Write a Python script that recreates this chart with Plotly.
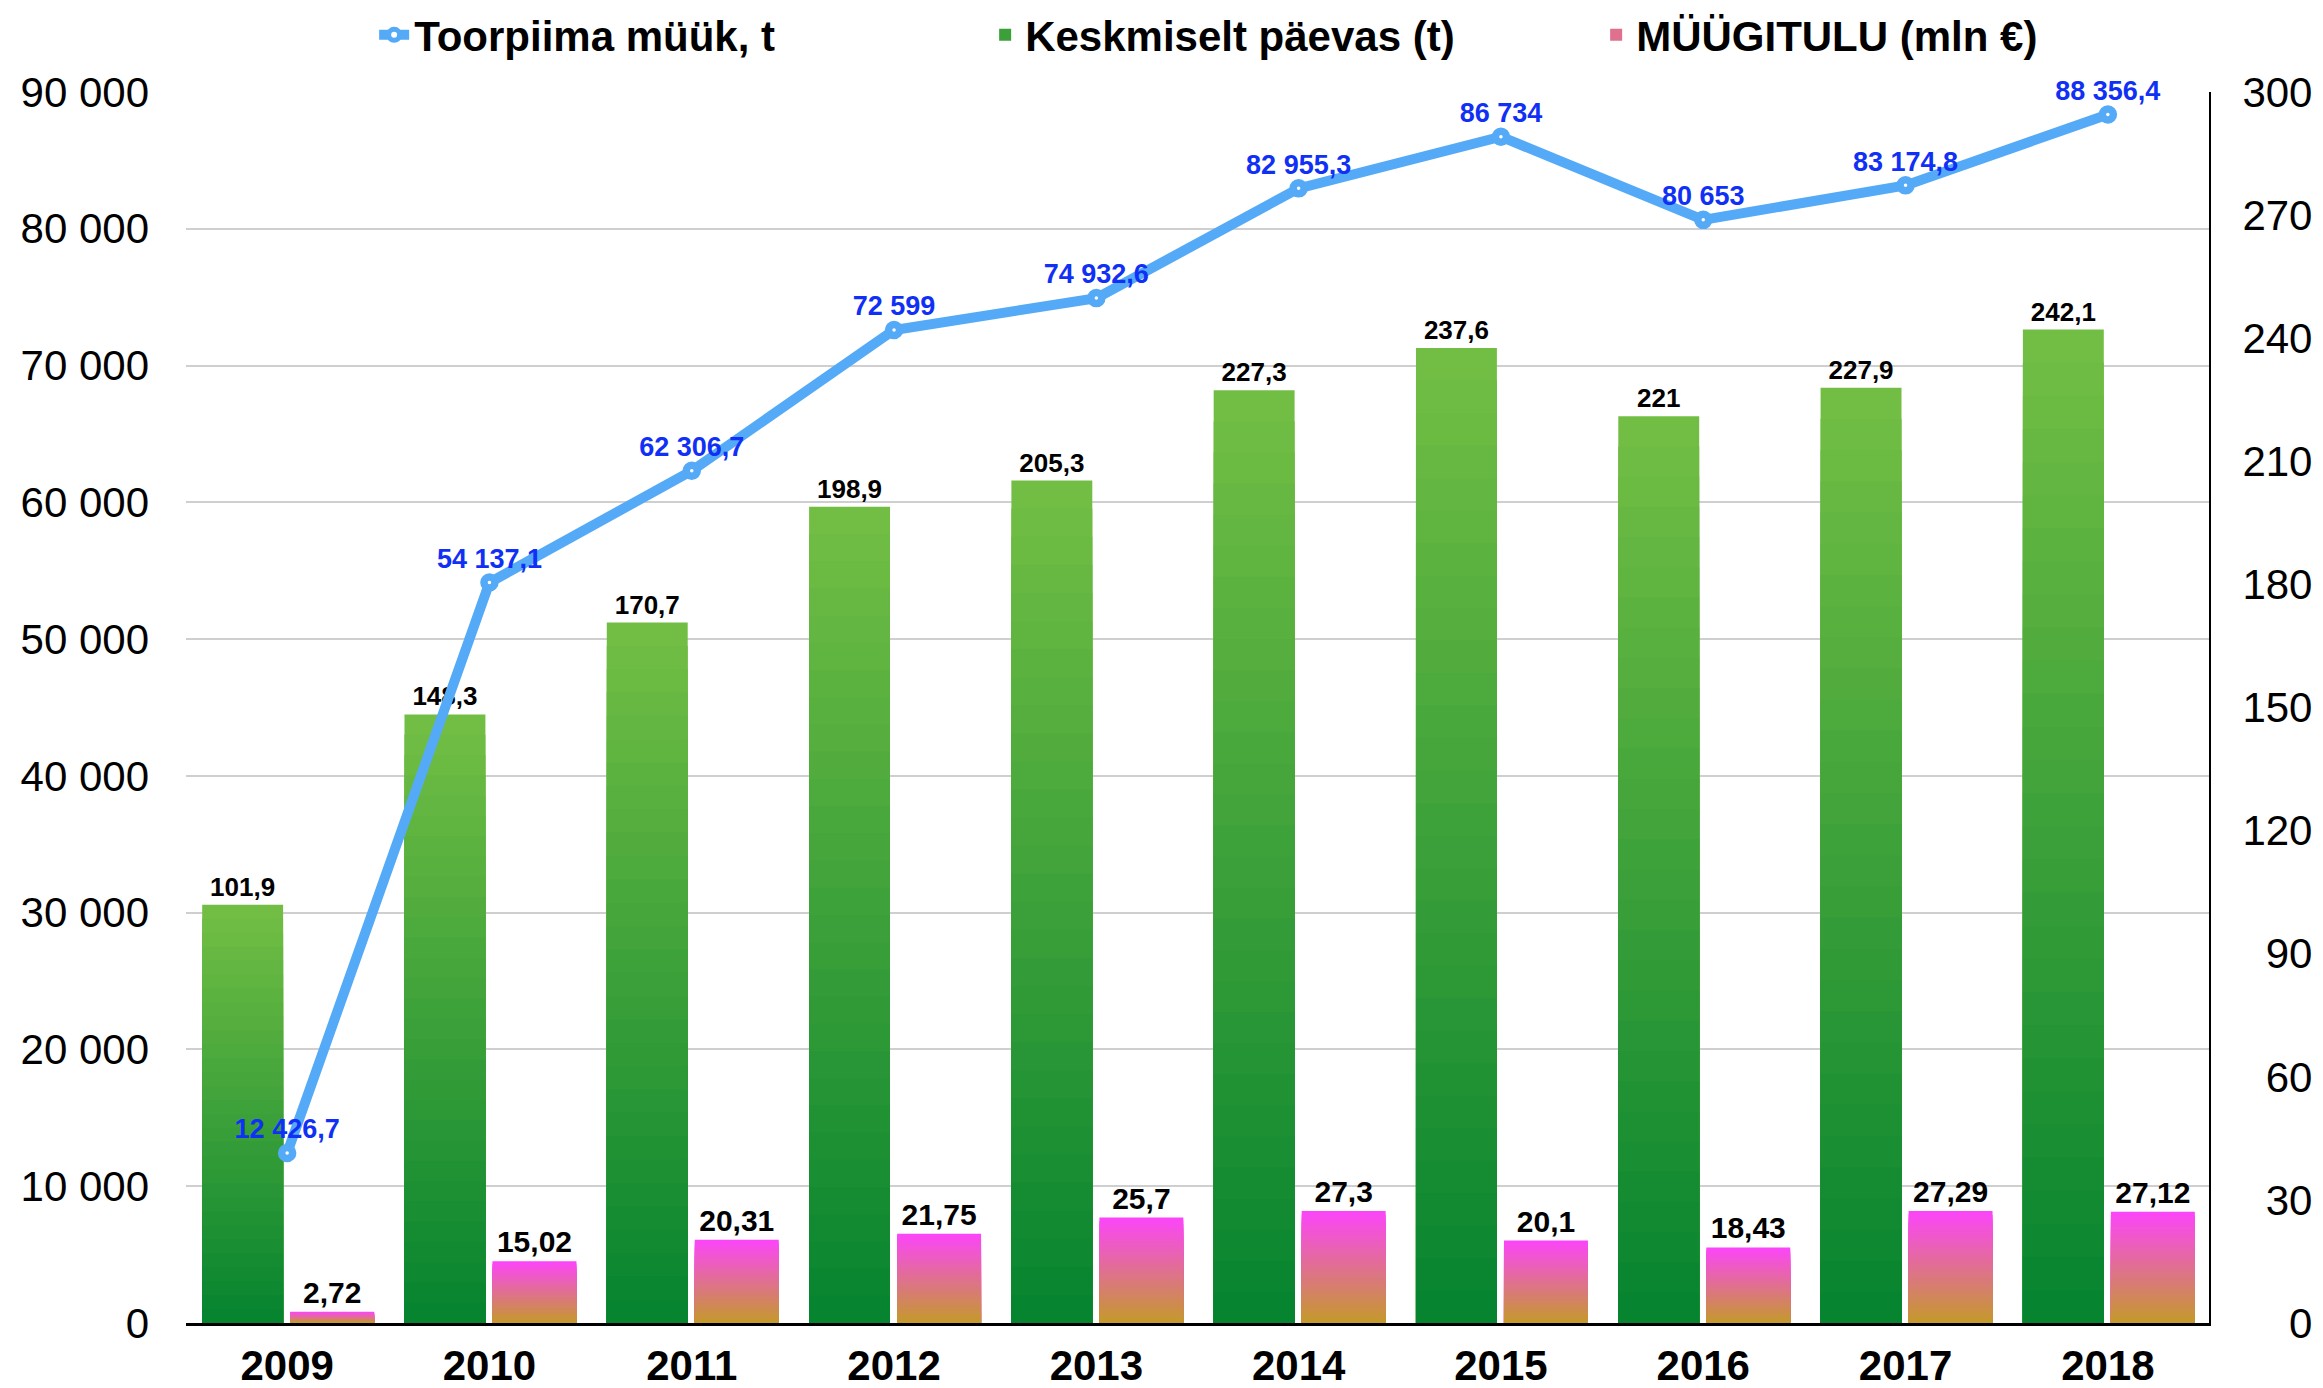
import plotly.graph_objects as go

years = ["2009", "2010", "2011", "2012", "2013", "2014", "2015", "2016", "2017", "2018"]
toorpiima = [12426.7, 54137.1, 62306.7, 72599, 74932.6, 82955.3, 86734, 80653, 83174.8, 88356.4]
keskmiselt = [101.9, 148.3, 170.7, 198.9, 205.3, 227.3, 237.6, 221, 227.9, 242.1]
muugitulu = [2.72, 15.02, 20.31, 21.75, 25.7, 27.3, 20.1, 18.43, 27.29, 27.12]
right_ticks = [0, 30, 60, 90, 120, 150, 180, 210, 240, 270, 300]

FONT = "Liberation Sans, Arial, Helvetica, sans-serif"


def fmt_dec(v):
    return f"{v:g}".replace(".", ",")


def fmt_thousands(v):
    s = f"{int(v):,}" if float(v).is_integer() else f"{v:,.1f}"
    return s.replace(",", " ").replace(".", ",")


def hex2rgb(h):
    h = h.lstrip("#")
    return tuple(int(h[i:i + 2], 16) for i in (0, 2, 4))


def interp(c_bottom, c_top, f):
    a, b = hex2rgb(c_bottom), hex2rgb(c_top)
    return "rgb(%d,%d,%d)" % tuple(round(a[i] + (b[i] - a[i]) * f) for i in range(3))


fig = go.Figure()

N = 30


def add_gradient_bars(values, name, c_top, c_bottom, offset, width, labels, tfont, rank):
    for k in range(N):
        frac = (N - k) / N
        f = (N - k - 0.5) / N
        color = interp(c_bottom, c_top, f)
        fig.add_trace(go.Bar(
            x=years,
            y=[v * frac for v in values],
            yaxis="y",
            name=name,
            legendgroup=name,
            legendrank=rank,
            showlegend=(k == N // 2),
            marker=dict(color=color, line=dict(width=0)),
            offset=offset,
            width=width,
            text=labels if k == 0 else None,
            textposition="outside" if k == 0 else "none",
            textfont=tfont,
            cliponaxis=False,
            hoverinfo="x+text" if k == 0 else "skip",
        ))


add_gradient_bars(keskmiselt, "Keskmiselt päevas (t)", "#74bf44", "#05832f", -0.42, 0.40,
                  [fmt_dec(v) for v in keskmiselt],
                  dict(family=FONT, size=26, color="black", weight="bold"), 2)
add_gradient_bars(muugitulu, "MÜÜGITULU (mln €)", "#fc45fa", "#c49a2a", 0.015, 0.415,
                  [fmt_dec(v) for v in muugitulu],
                  dict(family=FONT, size=30, color="black", weight="bold"), 3)

fig.add_trace(go.Scatter(
    x=years,
    y=toorpiima,
    yaxis="y2",
    name="Toorpiima müük, t",
    legendrank=1,
    mode="lines+markers+text",
    line=dict(color="#55aaf7", width=10),
    marker=dict(symbol="circle", size=11, color="white", line=dict(color="#55aaf7", width=7.5)),
    text=[fmt_thousands(v) for v in toorpiima],
    textposition="top center",
    textfont=dict(family=FONT, size=27, color="#1030f5", weight="bold"),
    cliponaxis=False,
))

fig.update_layout(
    width=2315,
    height=1380,
    paper_bgcolor="white",
    plot_bgcolor="white",
    separators=", ",
    barmode="overlay",
    margin=dict(l=178, r=114, t=84, b=65, autoexpand=False),
    font=dict(family=FONT, color="black"),
    xaxis=dict(
        type="category",
        range=[-0.5, 9.5],
        showgrid=False,
        showline=True,
        linecolor="black",
        linewidth=3,
        ticks="",
        tickfont=dict(family=FONT, size=42, color="black", weight="bold"),
        ticklabelstandoff=4,
        automargin=False,
    ),
    yaxis=dict(
        side="right",
        range=[0, 300],
        tickmode="array",
        tickvals=right_ticks,
        ticktext=[f"{v:>3}".replace(" ", "\u2007") for v in right_ticks],
        showgrid=False,
        zeroline=False,
        showline=True,
        linecolor="black",
        linewidth=2,
        ticks="",
        tickfont=dict(family=FONT, size=42, color="black"),
        ticklabelstandoff=23,
        automargin=False,
    ),
    yaxis2=dict(
        side="left",
        overlaying="y",
        range=[0, 90000],
        dtick=10000,
        tick0=0,
        tickformat=",d",
        showgrid=True,
        gridcolor="#cfcfcf",
        gridwidth=1.5,
        zeroline=False,
        showline=False,
        ticks="",
        tickfont=dict(family=FONT, size=42, color="black"),
        ticklabelstandoff=36,
        automargin=False,
    ),
    legend=dict(
        orientation="h",
        xref="paper",
        x=0.093,
        xanchor="left",
        yref="container",
        y=1 - 27 / 1380,
        yanchor="middle",
        font=dict(family=FONT, size=42, color="black", weight="bold"),
        entrywidth=566,
        itemwidth=30,
        bgcolor="rgba(0,0,0,0)",
    ),
    showlegend=True,
)

fig.write_html("out.html")
